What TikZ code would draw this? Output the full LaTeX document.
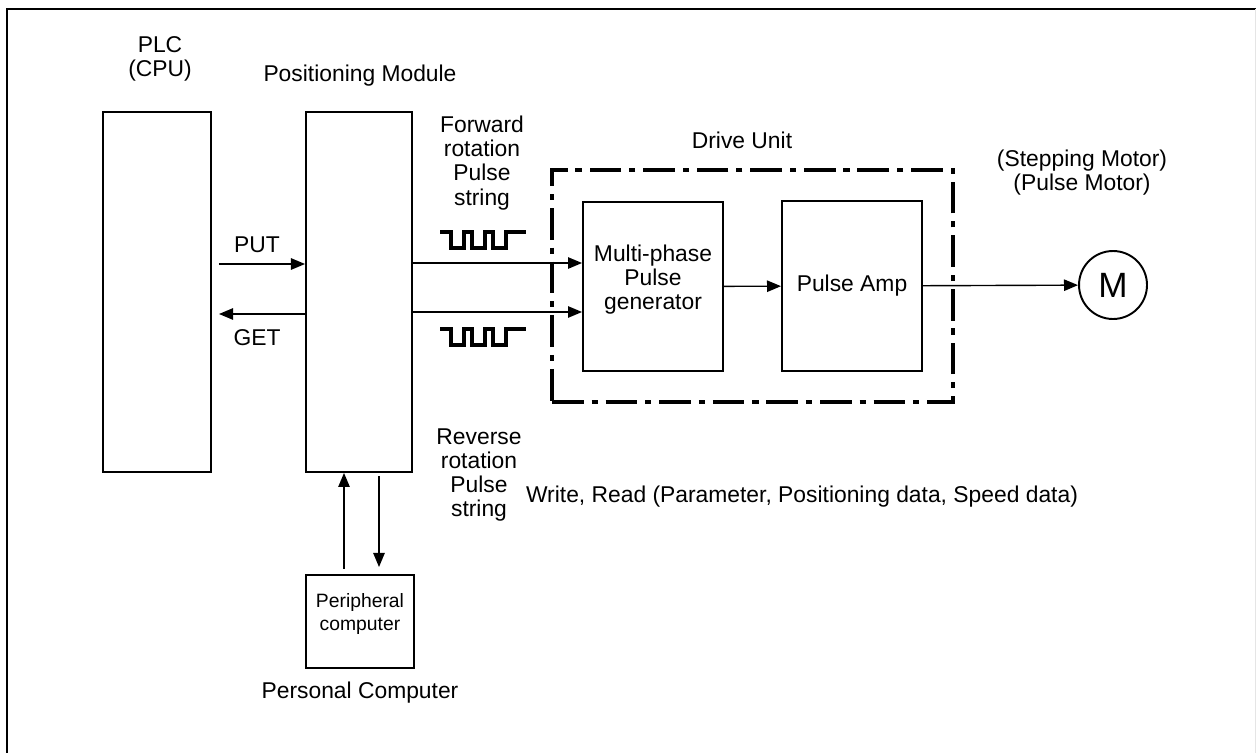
\documentclass[tikz,border=0pt]{standalone}
\usepackage{fontspec}
\setmainfont{Liberation Sans}
\usetikzlibrary{arrows.meta,positioning,calc,fit}

\begin{document}
\begin{tikzpicture}[
  x=0.02cm, y=-0.02cm,
  box/.style={
    rectangle, draw, line width=1.1pt, align=center, inner sep=0pt,
    font=\fontsize{13}{13.7}\selectfont
  },
  lbl/.style={align=center, inner sep=0pt, font=\fontsize{13}{13.7}\selectfont},
  driveunit/.style={
    rectangle, draw, line width=2.2pt,
    dash pattern=on 18pt off 4.5pt on 3.5pt off 4.5pt,
    inner xsep=0.6cm, inner ysep=0.6cm
  },
  arr/.style={-{Triangle[length=8pt,width=6.5pt]}, line width=0.8pt},
  wave/.style={line width=2.2pt},
  frame/.style={line width=1.1pt}
]
\useasboundingbox (0,0) rectangle (1256,753);

% --- Outer frame
\draw[frame] (1256,9) -- (7,9) -- (7,753);
\draw[gray!20] (1255,9) -- (1255,753);

% --- Blocks
\node[box, minimum width=2.16cm, minimum height=7.2cm] (plc) at (157,292) {};
\node[box, minimum width=2.12cm, minimum height=7.2cm] (pm)  at (359,292) {};
\node[box, minimum width=2.8cm, minimum height=3.38cm, text depth=0.36cm] (mpg) at (653,286.5) {Multi-phase\\Pulse\\generator};
\node[box, minimum width=2.8cm, minimum height=3.4cm]  (amp) at (852,286) {Pulse Amp};
\node[box, circle, minimum size=1.36cm, font=\fontsize{20}{22}\selectfont] (motor) at (1113,285) {M};
\node[box, minimum width=2.16cm, minimum height=1.86cm, text depth=0.38cm,
  font=\fontsize{11}{13}\selectfont] (pc) at (360,621.5) {Peripheral\\computer};

% --- Drive unit boundary
\node[driveunit, fit=(mpg)(amp)] (drive) {};

% --- Labels
\node[lbl] (plclbl)   at (160,59)  {PLC\\(CPU)};
\node[lbl] (pmlbl)    at (360,76)  {Positioning Module};
\node[lbl] (putlbl)   at (257,245) {PUT};
\node[lbl] (getlbl)   at (257,338) {GET};
\node[lbl] (fwdlbl)   at (482,163) {Forward\\rotation\\Pulse\\string};
\node[lbl] (revlbl)   at (479,475) {Reverse\\rotation\\Pulse\\string};
\node[lbl] (drvlbl)   at (742,140) {Drive Unit};
\node[lbl] (motorlbl) at (1082,173) {(Stepping Motor)\\(Pulse Motor)};
\node[lbl] (wrlbl)    at (802,497) {Write, Read (Parameter, Positioning data, Speed data)};
\node[lbl] (pclbl)    at (360,693) {Personal Computer};

% --- Pulse strings
\draw[wave] (440,232) -- ++(11,0) -- ++(0,16) -- ++(13,0) -- ++(0,-16) -- ++(8,0) -- ++(0,16)
  -- ++(13,0) -- ++(0,-16) -- ++(8,0) -- ++(0,16) -- ++(13,0) -- ++(0,-16) -- ++(20,0);
\draw[wave] (440,329) -- ++(11,0) -- ++(0,16) -- ++(13,0) -- ++(0,-16) -- ++(8,0) -- ++(0,16)
  -- ++(13,0) -- ++(0,-16) -- ++(8,0) -- ++(0,16) -- ++(13,0) -- ++(0,-16) -- ++(20,0);

% --- Signals
\draw[arr, shorten <=4pt] ([yshift=0.56cm]plc.east) -- ([yshift=0.56cm]plc.east -| pm.west);
\draw[arr, shorten >=4pt] ([yshift=-0.44cm]pm.west) -- ([yshift=-0.44cm]pm.west -| plc.east);
\draw[arr] ([yshift=0.58cm]pm.east) -- ([yshift=0.58cm]pm.east -| mpg.west);
\draw[arr] ([yshift=-0.4cm]pm.east) -- ([yshift=-0.4cm]pm.east -| mpg.west);
\draw[arr] (mpg) -- (amp);
\draw[arr] (amp) -- (motor);
\draw[arr, shorten <=3pt] ([xshift=-0.32cm]pc.north) -- ([xshift=-0.32cm]pc.north |- pm.south);
\draw[arr, shorten <=2pt, shorten >=4pt] ([xshift=0.38cm]pc.north |- pm.south) -- ([xshift=0.38cm]pc.north);

\end{tikzpicture}
\end{document}
